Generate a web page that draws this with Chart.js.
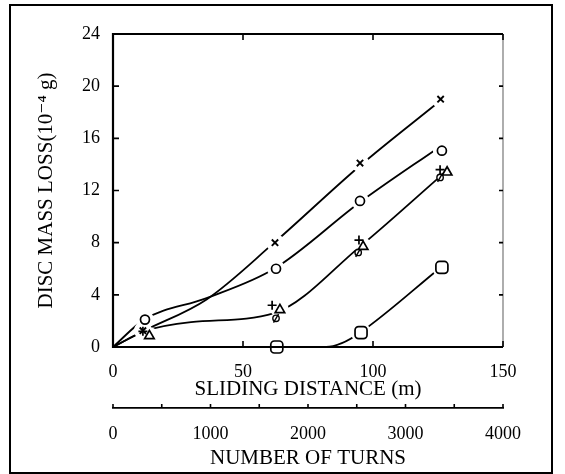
<!DOCTYPE html>
<html>
<head>
<meta charset="utf-8">
<script src="https://cdn.jsdelivr.net/npm/chart.js@4"></script>
<style>
  body { margin: 0; background: #fff; }
  #wrap { position: relative; width: 565px; height: 474px; }
  #frame { position: absolute; left: 9px; top: 4px; width: 544px; height: 470px;
           box-sizing: border-box; border: 2px solid #000; pointer-events: none; }
</style>
</head>
<body>
<div id="wrap">
  <canvas id="wear" width="565" height="474"></canvas>
  <div id="frame"></div>
</div>
<script>
// measured points (sliding distance m, mass loss 1e-4 g)
const crossPts  = [[11.5, 1.25], [62.3, 8.0], [95, 14.1], [126, 19.0]];
const circlePts = [[12.3, 2.1], [62.7, 6.0], [95, 11.2], [126.5, 15.05]];
const plusPts   = [[11.5, 1.2], [61.2, 3.2], [94.6, 8.2], [125.8, 13.6]];
const trianglePts = [[14, 0.85], [64.2, 2.85], [96.2, 7.7], [128.5, 13.4]];
const slashPts  = [[62.7, 2.2], [94.3, 7.25], [125.8, 13.0]];
const squarePts = [[63, 0], [95.4, 1.1], [126.5, 6.1]];

// hand drawn trend curves
const fitCross    = [[0, 0], [12, 1.25], [36, 3.65], [62, 8.0], [95, 13.9], [126, 18.9]];
const fitCircle   = [[0, 0], [12, 2.1], [36, 3.75], [62, 6.0], [95, 11.1], [126, 15.4]];
const fitTriangle = [[0, 0], [12, 1.2], [30, 1.9], [62, 2.6], [95, 7.7], [126, 13.1]];
const fitSquare   = [[62, 0], [82, 0], [88, 0.3], [95, 1.1], [126, 6.1]];

const distTicks = [0, 50, 100, 150];
const massTicks = [0, 4, 8, 12, 16, 20, 24];
const turnsMax = 4000;

const serif = "'Liberation Serif', 'DejaVu Serif', serif";
const pts = a => a.map(p => ({x: p[0], y: p[1]}));

function curve(arr) {
    return {
        type: 'line', data: pts(arr), borderColor: '#000', borderWidth: 1.8,
        pointRadius: 0, cubicInterpolationMode: 'monotone', fill: false
    };
}
function halo(arr, r) {
    return {
        type: 'scatter', data: pts(arr), pointStyle: 'circle', pointRadius: r,
        pointBackgroundColor: '#fff', pointBorderWidth: 0, pointBorderColor: '#fff',
        clip: false
    };
}
function marks(arr, style, r, extra) {
    return Object.assign({
        type: 'scatter', data: pts(arr), pointStyle: style, pointRadius: r,
        pointBackgroundColor: '#fff', pointBorderColor: '#000', pointBorderWidth: 1.7,
        clip: false
    }, extra || {});
}

const datasets = [
    marks(crossPts, 'crossRot', 4.5, {pointBorderWidth: 1.9}),
    marks(circlePts, 'circle', 4.5),
    marks(plusPts, 'cross', 4.5),
    marks(trianglePts, 'triangle', 5.5),
    marks(slashPts, 'line', 5, {pointRotation: -60, pointBorderWidth: 1.4}),
    marks(slashPts, 'circle', 3.2, {pointBorderWidth: 1.4}),
    marks(squarePts, 'rectRounded', 7),
    halo(crossPts, 9), halo(circlePts, 9), halo(plusPts, 8), halo(trianglePts, 9),
    halo(squarePts, 10),
    curve(fitCross), curve(fitCircle), curve(fitTriangle), curve(fitSquare)
];

// box frame with inward ticks, plus upward ticks on the turns axis
const framePlugin = {
    id: 'framePlugin',
    afterDraw(chart) {
        const ctx = chart.ctx;
        const a = chart.chartArea;
        const sx = chart.scales.x, sy = chart.scales.y, st = chart.scales.turns;
        ctx.save();
        ctx.strokeStyle = '#000';
        ctx.lineWidth = 2.2;
        ctx.beginPath();
        ctx.moveTo(a.right, a.top); ctx.lineTo(a.left, a.top);
        ctx.lineTo(a.left, a.bottom); ctx.lineTo(a.right, a.bottom);
        ctx.stroke();
        ctx.strokeStyle = '#777';
        ctx.lineWidth = 1.2;
        ctx.beginPath();
        ctx.moveTo(a.right, a.top); ctx.lineTo(a.right, a.bottom);
        ctx.stroke();
        ctx.strokeStyle = '#000';
        ctx.lineWidth = 1.6;
        ctx.beginPath();
        distTicks.forEach(v => {
            const px = sx.getPixelForValue(v);
            ctx.moveTo(px, a.bottom); ctx.lineTo(px, a.bottom - 6);
            ctx.moveTo(px, a.top); ctx.lineTo(px, a.top + 6);
        });
        massTicks.forEach(v => {
            const py = sy.getPixelForValue(v);
            ctx.moveTo(a.left, py); ctx.lineTo(a.left + 6, py);
            ctx.moveTo(a.right, py); ctx.lineTo(a.right - 4, py);
        });
        st.ticks.forEach(t => {
            const px = st.getPixelForValue(t.value);
            ctx.moveTo(px, st.top); ctx.lineTo(px, st.top - 4);
        });
        ctx.stroke();
        ctx.restore();
    }
};

const myChart = new Chart(document.getElementById('wear'), {
    data: { datasets },
    options: {
        responsive: false,
        devicePixelRatio: 1,
        animation: false,
        layout: { padding: { left: 10, top: 34, right: 62, bottom: 0 } },
        plugins: { legend: { display: false }, tooltip: { enabled: false } },
        scales: {
            x: {
                type: 'linear', position: 'bottom', min: 0, max: 150,
                afterFit: s => { s.height = 61; },
                grid: { display: false }, border: { display: false },
                ticks: { stepSize: 50, color: '#000', padding: 6, maxRotation: 0,
                         font: { family: serif, size: 18 } },
                title: { display: true, text: 'SLIDING DISTANCE (m)', color: '#000',
                         padding: { top: 0, bottom: 6 }, font: { family: serif, size: 21 } }
            },
            turns: {
                type: 'linear', position: 'bottom', min: 0, max: turnsMax,
                afterFit: s => { s.height = 66; },
                grid: { display: false },
                border: { display: true, color: '#000', width: 1.8 },
                ticks: { stepSize: 500, autoSkip: false, maxRotation: 0, color: '#000',
                         padding: 7, font: { family: serif, size: 18 },
                         callback: v => (v % 1000 === 0 ? v : '') },
                title: { display: true, text: 'NUMBER OF TURNS', color: '#000',
                         padding: { top: 0, bottom: 3 }, font: { family: serif, size: 21 } }
            },
            y: {
                type: 'linear', position: 'left', min: 0, max: 24,
                afterFit: s => { s.width = 103; },
                grid: { display: false }, border: { display: false },
                ticks: { stepSize: 4, color: '#000', padding: 5,
                         font: { family: serif, size: 18 } },
                title: { display: true, text: 'DISC MASS LOSS(10\u207B\u2074 g)', color: '#000',
                         padding: { top: 24, bottom: 0 }, font: { family: serif, size: 21 } }
            }
        }
    },
    plugins: [framePlugin]
});
</script>
</body>
</html>
